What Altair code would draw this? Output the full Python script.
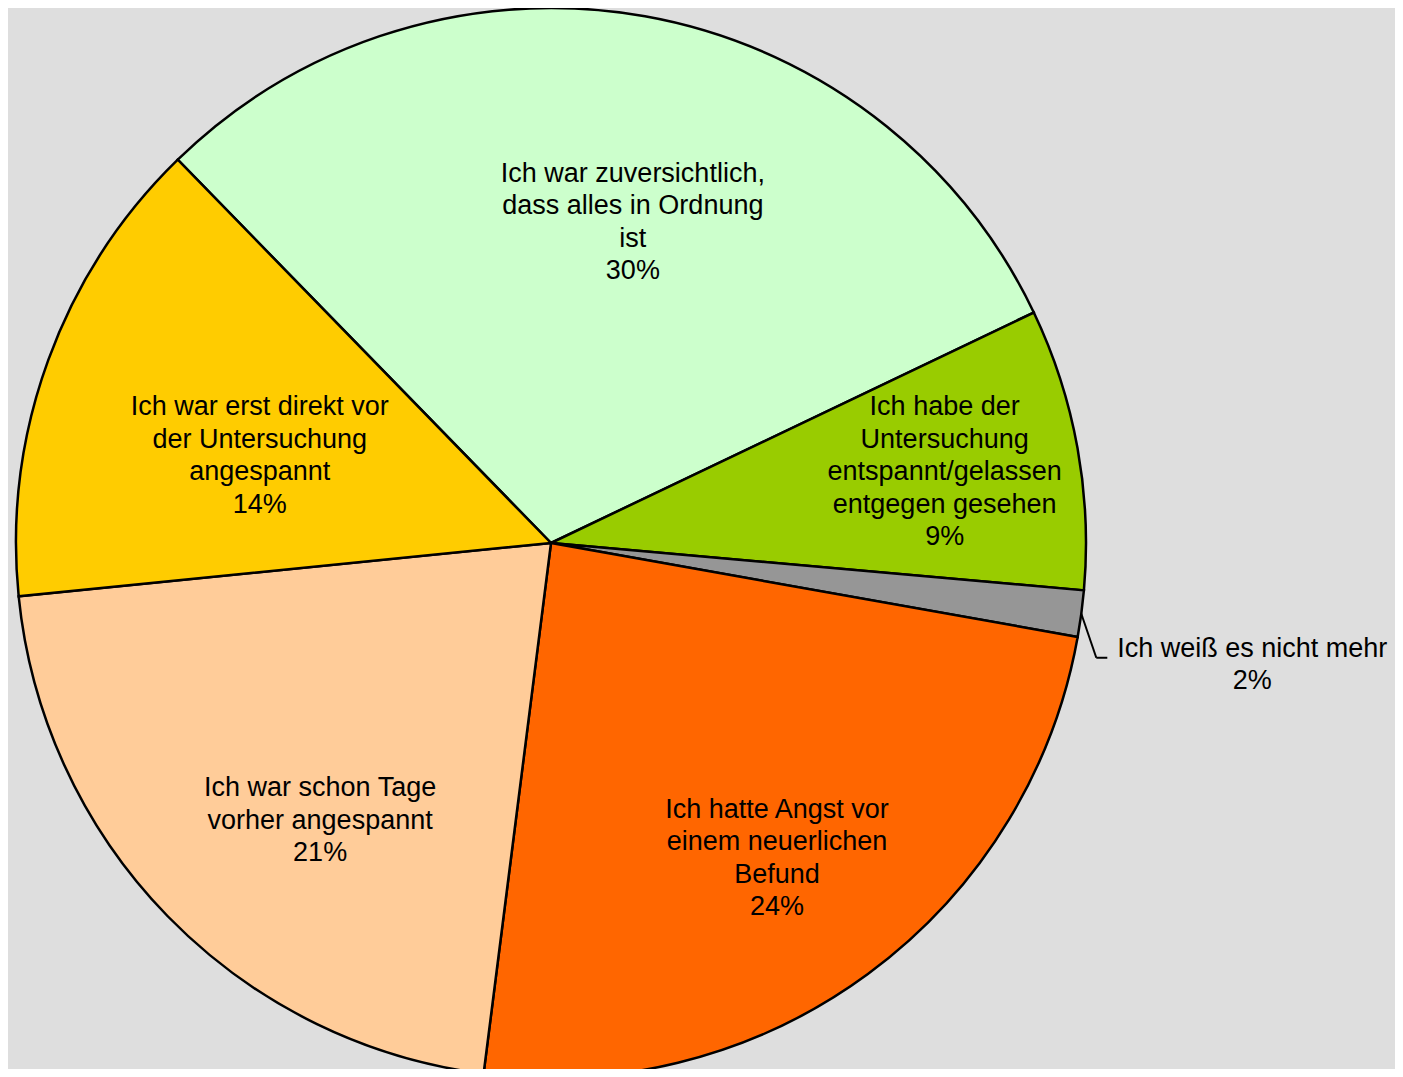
import math
import altair as alt
import pandas as pd

# ---- data ----
categories = [
    "Ich war zuversichtlich, dass alles in Ordnung ist",
    "Ich habe der Untersuchung entspannt/gelassen entgegen gesehen",
    "Ich weiß es nicht mehr",
    "Ich hatte Angst vor einem neuerlichen Befund",
    "Ich war schon Tage vorher angespannt",
    "Ich war erst direkt vor der Untersuchung angespannt",
]
values = [30.2, 8.5, 1.4, 24.2, 21.4, 14.3]
pct_labels = ["30%", "9%", "2%", "24%", "21%", "14%"]
label_text = [
    "Ich war zuversichtlich,\ndass alles in Ordnung\nist",
    "Ich habe der\nUntersuchung\nentspannt/gelassen\nentgegen gesehen",
    "Ich weiß es nicht mehr",
    "Ich hatte Angst vor\neinem neuerlichen\nBefund",
    "Ich war schon Tage\nvorher angespannt",
    "Ich war erst direkt vor\nder Untersuchung\nangespannt",
]

# ---- styles / layout ----
colors = ["#CCFFCC", "#99CC00", "#969696", "#FF6600", "#FFCC99", "#FFCC00"]
label_radius = [331, 400, 0, 388, 361, 304]        # label distance from centre (px)
label_shift_deg = [4.2, 0.0, 0.0, 0.7, -6.0, -3.4]  # label offset from slice mid-angle
outside_idx = 2                                     # the small slice labelled outside
W, H = 1387, 1061
CX, CY, R = 543, 535, 535
A0 = math.radians(-44.24)                            # start angle of first slice
FONT = "Liberation Sans"
FS = 27
LH = 32.5

df = pd.DataFrame({
    "idx": list(range(len(categories))),
    "category": categories,
    "value": values,
    "label": [t + "\n" + p for t, p in zip(label_text, pct_labels)],
    "lr": label_radius,
    "lshift": [math.radians(d) for d in label_shift_deg],
})
total = sum(values)

theta_scale = alt.Scale(domain=[0, total], range=[A0, A0 + 2 * math.pi])

base = (
    alt.Chart(df)
    .transform_joinaggregate(total="sum(value)")
    .transform_window(cum="sum(value)", sort=[alt.SortField("idx")])
    .transform_calculate(start="datum.cum - datum.value",
                         mid="datum.cum - datum.value / 2")
    .transform_calculate(ang=f"{A0} + 2 * PI * datum.mid / datum.total",
                         nlines="length(split(datum.label, '\\n'))")
)

arcs = base.mark_arc(radius=R, stroke="black", strokeWidth=2.5).encode(
    theta=alt.Theta("start:Q", scale=theta_scale, stack=False),
    theta2="cum:Q",
    color=alt.Color("category:N",
                    scale=alt.Scale(domain=categories, range=colors),
                    legend=None),
    x=alt.value(CX),
    y=alt.value(CY),
)

text_style = dict(font=FONT, fontSize=FS, lineHeight=LH, lineBreak="\n",
                  color="black", align="center", baseline="middle")

inside = base.transform_filter(f"datum.idx != {outside_idx}").transform_calculate(
    la="datum.ang + datum.lshift",
).transform_calculate(
    tx=f"{CX} + datum.lr * sin(datum.la)",
    ty=f"{CY} - datum.lr * cos(datum.la) - (datum.nlines - 1) * {LH} / 2",
).mark_text(**text_style).encode(
    x=alt.X("tx:Q", scale=None, axis=None),
    y=alt.Y("ty:Q", scale=None, axis=None),
    text="label:N",
)

ext = base.transform_filter(f"datum.idx == {outside_idx}").transform_calculate(
    sx=f"{CX} + {R} * sin(datum.ang)",
    sy=f"{CY} - {R} * cos(datum.ang)",
).transform_calculate(
    ex="datum.sx + 15",
    ey="datum.sy + 44",
).transform_calculate(
    fx="datum.ex + 11",
    tx="datum.sx + 171",
    ty=f"datum.sy + 51 - (datum.nlines - 1) * {LH} / 2",
)

leader1 = ext.mark_rule(color="black", strokeWidth=2).encode(
    x=alt.X("sx:Q", scale=None, axis=None),
    y=alt.Y("sy:Q", scale=None, axis=None),
    x2="ex:Q",
    y2="ey:Q",
)
leader2 = ext.mark_rule(color="black", strokeWidth=2).encode(
    x=alt.X("ex:Q", scale=None, axis=None),
    y=alt.Y("ey:Q", scale=None, axis=None),
    x2="fx:Q",
    y2="ey:Q",
)
outside_text = ext.mark_text(**text_style).encode(
    x=alt.X("tx:Q", scale=None, axis=None),
    y=alt.Y("ty:Q", scale=None, axis=None),
    text="label:N",
)

chart = (
    alt.layer(arcs, inside, leader1, leader2, outside_text)
    .properties(width=W, height=H, background="#DEDEDE", padding=0,
                autosize=alt.AutoSizeParams(type="none"))
    .configure_view(stroke="transparent")
)

chart.save("out.html", embed_options={"renderer": "svg", "actions": False})
